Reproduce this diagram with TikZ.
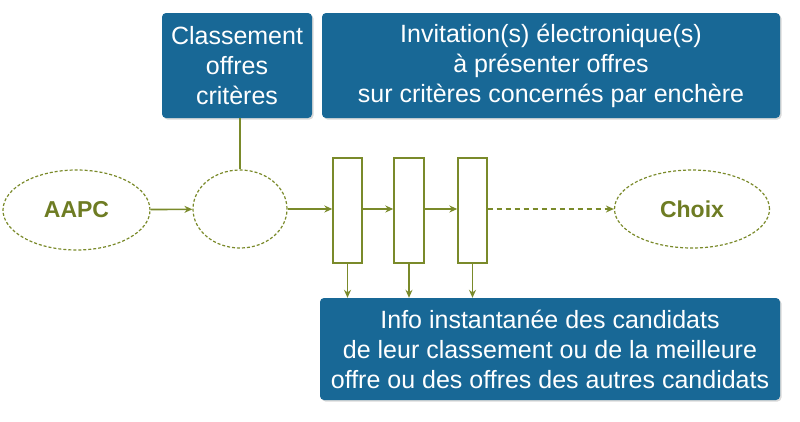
\documentclass[tikz,border=0pt]{standalone}
\usepackage{fontspec}
\setmainfont{Liberation Sans}
\usetikzlibrary{shapes.geometric,arrows.meta,shadows}
\definecolor{boxblue}{RGB}{24,104,150}
\definecolor{linegreen}{RGB}{122,138,42}
\definecolor{textgreen}{RGB}{110,124,35}
\begin{document}
\begin{tikzpicture}[x=1pt,y=-1pt,
  bluebox/.style={fill=boxblue, rounded corners=4pt, text=white, align=center, inner sep=0pt,
    font=\fontsize{25}{30}\selectfont,
    drop shadow={shadow xshift=1.5pt, shadow yshift=-1.5pt, opacity=0.3, fill=gray}},
  oval/.style={ellipse, draw=linegreen, line width=1.2pt, dash pattern=on 3pt off 2pt, inner sep=0pt,
    text=textgreen, font=\fontsize{23}{26}\selectfont\bfseries},
  bar/.style={draw=linegreen, line width=1.4pt, inner sep=0pt, minimum height=105pt},
  flow/.style={draw=linegreen, line width=1.6pt, -{Stealth[length=8pt,width=7pt]}},
  link/.style={draw=linegreen, line width=1.6pt}]
\useasboundingbox (0,0) rectangle (800,421);

\node[bluebox, minimum width=150pt, minimum height=105pt] (cl) at (237,65.5)
  {Classement\\offres\\critères};
\node[bluebox, minimum width=458pt, minimum height=105pt] (inv) at (551,65.5)
  {Invitation(s) électronique(s)\\à présenter offres\\sur critères concernés par enchère};
\node[bluebox, minimum width=460pt, minimum height=102pt] (info) at (550,349)
  {Info instantanée des candidats\\de leur classement ou de la meilleure\\offre ou des offres des autres candidats};

\node[oval, minimum width=147pt, minimum height=80pt] (aapc) at (76.5,210) {AAPC};
\node[oval, minimum width=94pt, minimum height=78pt] (mid) at (240,209) {};
\node[oval, minimum width=155pt, minimum height=78pt] (choix) at (692,209) {Choix};

\node[bar, minimum width=29pt] (r1) at (347.5,210.5) {};
\node[bar, minimum width=30pt] (r2) at (409,210.5) {};
\node[bar, minimum width=29pt] (r3) at (472.5,210.5) {};

\draw[link] (mid.north |- cl.south) -- (mid.north);
\draw[flow] (aapc) -- (mid);
\draw[flow] (mid) -- (mid -| r1.west);
\draw[flow] (r1.east |- mid) -- (mid -| r2.west);
\draw[flow] (r2.east |- mid) -- (mid -| r3.west);
\draw[flow, dash pattern=on 5pt off 4pt] (r3.east |- mid) -- (mid -| choix.west);

\draw[flow] (r1.south) -- (r1.south |- info.north);
\draw[flow] (r2.south) -- (r2.south |- info.north);
\draw[flow] (r3.south) -- (r3.south |- info.north);
\end{tikzpicture}
\end{document}
